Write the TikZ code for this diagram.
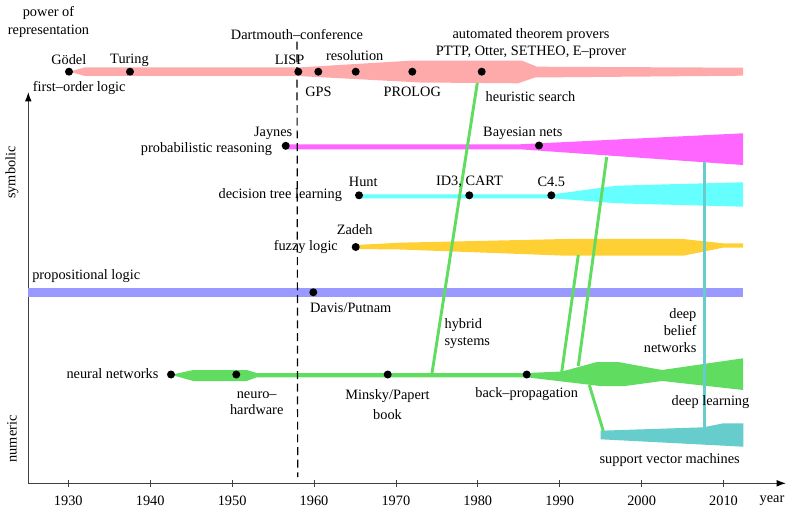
\documentclass[tikz,border=0pt]{standalone}
\usepackage{fontspec}
\setmainfont{Liberation Serif}
\usepackage{tikz}
\usetikzlibrary{arrows.meta}

\definecolor{fologic}{HTML}{FFAAAA}
\definecolor{probreas}{HTML}{FF66FF}
\definecolor{dectree}{HTML}{66FFFF}
\definecolor{fuzzy}{HTML}{FFD033}
\definecolor{proplogic}{HTML}{9999FF}
\definecolor{neural}{HTML}{60DD60}
\definecolor{svmcol}{HTML}{66CCCC}

\begin{document}
\begin{tikzpicture}[x=0.75pt,y=-0.75pt,
	every node/.style={font=\fontsize{10.75}{13}\selectfont,inner sep=1pt},
	event/.style={circle,fill=black,inner sep=0pt,minimum size=6pt},
	link/.style={line width=2.2pt,neural}]
	\useasboundingbox (0,0) rectangle (788,509);
	% axes
	\draw [black!75,line width=0.8pt,-{Latex[length=7pt,width=5pt,black]}] (28.3,483.3) -- (28.3,92);
	\draw [black!75,line width=0.8pt,-{Latex[length=7pt,width=5pt,black]}] (28.3,483.3) -- (786,483.3);
	\foreach \yr in {1930,1940,...,2010}{
		\draw [black!75,line width=0.6pt] ({68.3+8.19*(\yr-1930)},479.5) -- ++(0,7.5);
		\node (t\yr) at ({68.3+8.19*(\yr-1930)},500.5) {\yr};
	}
	\node (year) at (772,500.5) {year};
	\node (power) [align=center] at (48.5,22) {power of\\representation};
	\node (symb) [rotate=90] at (12,172.5) {symbolic};
	\node (num) [rotate=90] at (12,439) {numeric};
	% bands
	\fill[fologic] (69,71.7) -- (85,67.3) -- (298,67.5) -- (410,60.7) -- (522,60.7) -- (537,66.7) -- (743,67.7) -- (743,75.7) -- (535,77.5) -- (518,83.3) -- (420,82.5) -- (298,76) -- (85,76) -- cycle;
	\fill[probreas] (285.7,144.3) -- (520,144.3) -- (743,133.3) -- (743,165) -- (520,149.3) -- (285.7,149.3) -- cycle;
	\fill[dectree] (359,194.3) -- (553,194.3) -- (616.7,185.7) -- (743,182.3) -- (743,206.7) -- (616.7,203.3) -- (553,198.3) -- (359,198.3) -- cycle;
	\fill[fuzzy] (355.7,245) -- (400,242.7) -- (566,239) -- (683,239) -- (723,243.3) -- (743,243.3) -- (743,247.7) -- (723,247.7) -- (683,255.7) -- (566,255.7) -- (400,249.5) -- (355.7,249) -- cycle;
	\fill[proplogic] (28.3,288.3) rectangle (743,296.7);
	\fill[neural] (171,374.8) -- (193.3,370) -- (246.7,370) -- (256.7,373) -- (526.7,373) -- (562,371.5) -- (597,362) -- (618,362) -- (662,370) -- (743,358.3) -- (743,390) -- (662,381) -- (625,386) -- (600,386) -- (526.7,377.3) -- (256.7,377.3) -- (246.7,381) -- (193.3,381) -- cycle;
	\fill[svmcol] (600.7,430.7) -- (703.3,427.3) -- (723.3,423.3) -- (743.3,423.3) -- (743.3,446.7) -- (600.7,439.3) -- cycle;
	% connectors
	\coordinate (hyb top) at (477.3,83);
	\coordinate (hyb bot) at (431.7,375);
	\coordinate (fz top) at (578.3,255);
	\coordinate (fz bot) at (561.7,372);
	\coordinate (pr top) at (606.7,157);
	\coordinate (pr bot) at (578.3,366);
	\coordinate (sv top) at (589.3,385);
	\coordinate (sv bot) at (603.3,431);
	\coordinate (dbn top) at (704.3,162);
	\coordinate (dbn bot) at (704.3,428);
	\draw[link] (hyb top) -- (hyb bot);
	\draw[link] (fz top) -- (fz bot);
	\draw[link] (pr top) -- (pr bot);
	\draw[link] (sv top) -- (sv bot);
	\draw[line width=2.2pt,svmcol] (dbn top) -- (dbn bot);
	% Dartmouth
	\node (dart) at (297,35) {Dartmouth--conference};
	\coordinate (dart bot) at (297.7,477);
	\draw[dashed,line width=0.9pt,dash pattern=on 6pt off 3.5pt] (dart.south) -- (dart bot);
	% events
	\node[event] (godel) at (69,71.7) {};
	\node[event] (turing) at (130,71.7) {};
	\node[event] (lisp) at (298.3,71.7) {};
	\node[event] (gps) at (318.3,71.7) {};
	\node[event] (resol) at (355.7,71.7) {};
	\node[event] (prolog) at (412.3,71.7) {};
	\node[event] (atp) at (481.7,71.7) {};
	\node[event] (jaynes) at (285.7,145.8) {};
	\node[event] (bayes) at (539,145.5) {};
	\node[event] (hunt) at (359,195.3) {};
	\node[event] (id3) at (469.3,195.3) {};
	\node[event] (c45) at (551.3,195.3) {};
	\node[event] (zadeh) at (355.7,247) {};
	\node[event] (davis) at (313.3,292.3) {};
	\node[event] (nn) at (171,374.5) {};
	\node[event] (nhw) at (236.3,374.5) {};
	\node[event] (minsky) at (387.7,374.5) {};
	\node[event] (bprop) at (526.7,374.5) {};
	% labels
	\node (l godel) at (68.8,60) {Gödel};
	\node (l turing) at (129.5,60) {Turing};
	\node (l lisp) at (289.5,60) {LISP};
	\node (l resol) at (354.7,55.7) {resolution};
	\node (l fol) at (79.2,88.3) {first--order logic};
	\node (l gps) at (318.5,91.7) {GPS};
	\node (l prolog) at (412.2,91.7) {PROLOG};
	\node (l atp) at (531,35) {automated theorem provers};
	\node (l pttp) at (531,52.7) {PTTP, Otter, SETHEO, E--prover};
	\node (l heur) at (530.5,96.7) {heuristic search};
	\node (l jaynes) at (273.2,133.3) {Jaynes};
	\node (l prob) [anchor=east] at (273.5,149) {probabilistic reasoning};
	\node (l bayes) at (522.8,133.3) {Bayesian nets};
	\node (l dtl) at (280.3,195) {decision tree learning};
	\node (l hunt) at (363.3,182.3) {Hunt};
	\node (l id3) at (469.5,182.3) {ID3, CART};
	\node (l c45) at (551.3,182.3) {C4.5};
	\node (l zadeh) at (354.7,230) {Zadeh};
	\node (l fuzzy) at (305.8,246.7) {fuzzy logic};
	\node (l prop) at (86.2,275.7) {propositional logic};
	\node (l davis) at (350.7,308.3) {Davis/Putnam};
	\node (l hyb) [align=left,anchor=west] at (443,333.5) {hybrid\\systems};
	\node (l dbn) [align=right,anchor=east] at (698,330.7) {deep\\belief\\networks};
	\node (l nn) at (112.5,374) {neural networks};
	\node (l nhw) [align=center] at (256.7,403) {neuro--\\[-1.2pt]hardware};
	\node (l minsky) [align=center] at (387.5,405) {Minsky/Papert\\[2pt]book};
	\node (l bprop) at (526.7,394) {back--propagation};
	\node (l dl) at (710.5,402.3) {deep learning};
	\node (l svm) at (669.7,460) {support vector machines};
\end{tikzpicture}
\end{document}
